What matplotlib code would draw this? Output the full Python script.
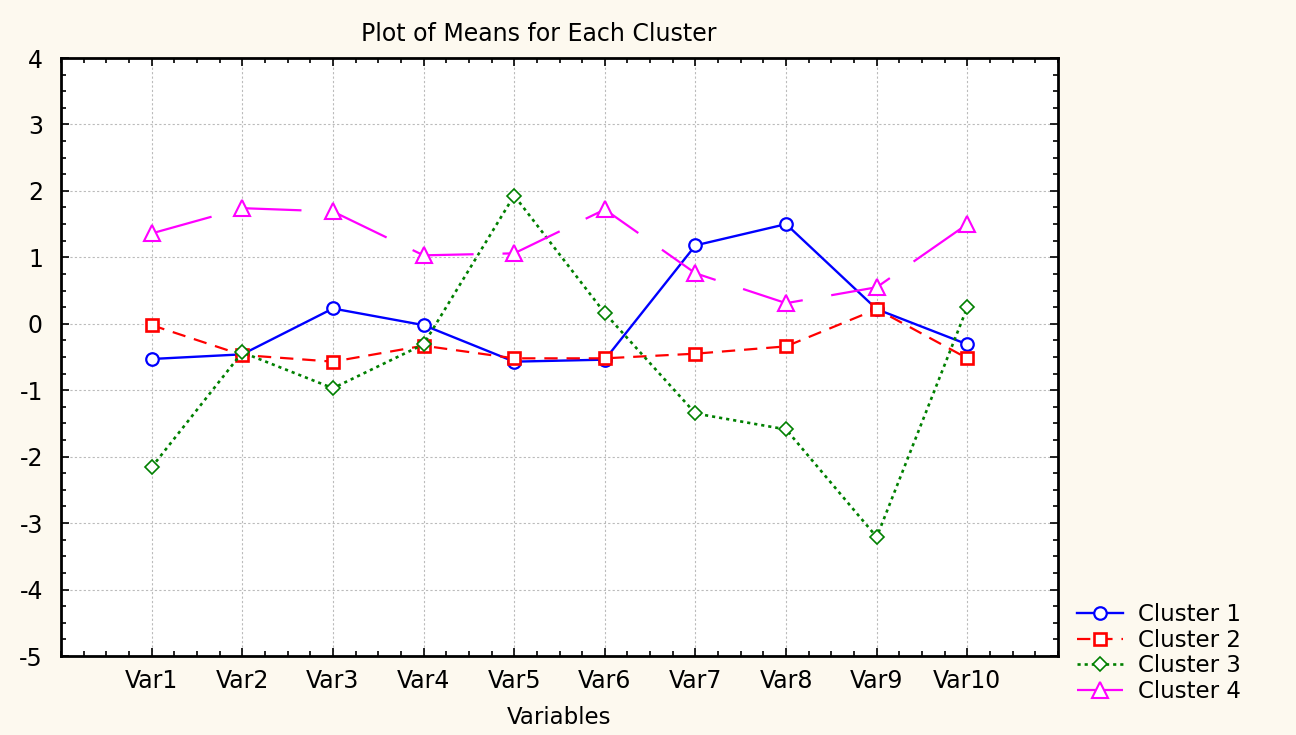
import numpy as np
import matplotlib
matplotlib.use("Agg")
import matplotlib.pyplot as plt
from matplotlib.ticker import MultipleLocator

plt.rcParams['font.family'] = ['DejaVu Sans']
plt.rcParams['axes.unicode_minus'] = False

# Data
variables = ['Var1', 'Var2', 'Var3', 'Var4', 'Var5', 'Var6', 'Var7', 'Var8', 'Var9', 'Var10']
cluster1 = [-0.53, -0.46, 0.23, -0.02, -0.57, -0.54, 1.18, 1.50, 0.22, -0.31]
cluster2 = [-0.02, -0.47, -0.57, -0.33, -0.52, -0.52, -0.45, -0.34, 0.22, -0.52]
cluster3 = [-2.16, -0.43, -0.97, -0.31, 1.93, 0.16, -1.35, -1.59, -3.21, 0.25]
cluster4 = [1.36, 1.74, 1.69, 1.03, 1.06, 1.72, 0.76, 0.31, 0.55, 1.50]

bg = '#fdf9ef'
fig = plt.figure(figsize=(12.96, 7.35), dpi=100, facecolor=bg)
ax = fig.add_axes([61/1296, 1-656/735, (1058-61)/1296, (656-58)/735])
ax.set_facecolor('white')

x = np.arange(1, len(variables) + 1)

ax.plot(x, cluster1, color='#0000ff', lw=1.7, marker='o', ms=9, mfc='white',
        mec='#0000ff', mew=1.6, label='Cluster 1')
ax.plot(x, cluster2, color='#ff0000', lw=1.6, ls=(0, (6, 4)), marker='s', ms=9,
        mfc='white', mec='#ff0000', mew=1.9, label='Cluster 2')
ax.plot(x, cluster3, color='#008000', lw=1.9, ls=(0, (1.2, 1.5)), marker='D', ms=7,
        mfc='white', mec='#008000', mew=1.2, label='Cluster 3')
ax.plot(x, cluster4, color='#ff00ff', lw=1.6, ls=(0, (28, 13)), marker='^', ms=11,
        mfc='white', mec='#ff00ff', mew=1.5, label='Cluster 4')

ax.set_xlim(0, 11)
ax.set_ylim(-5, 4)
ax.set_xticks(x)
ax.set_xticklabels(variables)
ax.xaxis.set_minor_locator(MultipleLocator(0.25))
ax.yaxis.set_major_locator(MultipleLocator(1))
ax.yaxis.set_minor_locator(MultipleLocator(0.25))

ax.tick_params(which='both', direction='in', top=True, right=True, labelsize=17,
               colors='black', width=1.2)
ax.tick_params(which='major', length=6, pad=9)
ax.tick_params(which='minor', length=3.5)
ax.tick_params(axis='y', pad=13)

for s in ax.spines.values():
    s.set_linewidth(2)
    s.set_color('black')

ax.grid(True, which='major', color='#bbbbbb', ls=(0, (2, 2)), lw=0.8)
ax.set_axisbelow(True)

fig.text(539/1296, 1-34/735, 'Plot of Means for Each Cluster', ha='center',
         va='center', fontsize=17)
fig.text(559/1296, 1-717/735, 'Variables', ha='center', va='center', fontsize=16.5)

fig.legend(loc='center left', bbox_to_anchor=(1068/1296, 1-653/735), frameon=False,
           fontsize=16.5, handlelength=2.0, handletextpad=0.65, labelspacing=0.12,
           borderaxespad=0, borderpad=0.4)

fig.savefig('out.png', dpi=100, facecolor=bg)
